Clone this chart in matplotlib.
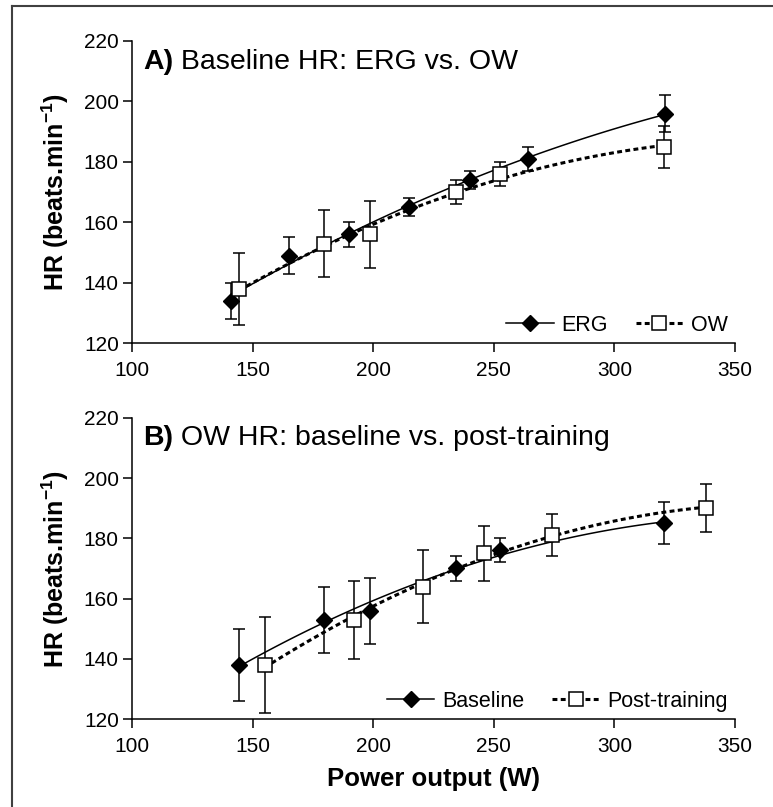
import numpy as np
import matplotlib
matplotlib.use("Agg")
import matplotlib.pyplot as plt
from matplotlib.lines import Line2D

plt.rcParams["font.family"] = "Liberation Sans"
plt.rcParams["mathtext.fontset"] = "custom"
plt.rcParams["mathtext.rm"] = "Liberation Sans"
plt.rcParams["mathtext.bf"] = "Liberation Sans:bold"

# Panel A: baseline ERG vs OW (mean +/- SD)
erg_w = [141, 165, 190, 215, 240, 264, 321]
erg_hr = [134, 149, 156, 165, 174, 181, 196]
erg_sd = [6, 6, 4, 3, 3, 4, 6]

ow_w = [144.5, 179.5, 198.5, 234.5, 252.5, 320.5]
ow_hr = [138, 153, 156, 170, 176, 185]
ow_sd = [12, 11, 11, 4, 4, 7]

# Panel B: OW post-training
post_w = [155, 192, 220.5, 246, 274, 338]
post_hr = [138, 153, 164, 175, 181, 190]
post_sd = [16, 13, 12, 9, 7, 8]

x_ticks = [100, 150, 200, 250, 300, 350]
y_ticks = [120, 140, 160, 180, 200, 220]

SOLID = dict(ls="-", lw=1.1, color="k")
DASH = dict(ls=(0, (1.6, 1.1)), lw=2.2, color="k")
DIAMOND = dict(marker="D", ms=8, mfc="k", mec="k", mew=1)
SQUARE = dict(marker="s", ms=10, mfc="white", mec="k", mew=1.1)


def draw_series(ax, x, y, sd, line, mark):
    x = np.asarray(x, float)
    y = np.asarray(y, float)
    ax.errorbar(x, y, yerr=sd, fmt="none", ecolor="k", elinewidth=1.1,
                capsize=4.5, capthick=1.1, zorder=2)
    # quadratic regression through the points, drawn over their range
    coef = np.polyfit(x, y, 2)
    xx = np.linspace(x.min(), x.max(), 100)
    ax.plot(xx, np.polyval(coef, xx), zorder=3, **line)
    ax.plot(x, y, ls="none", zorder=4, **mark)


def style_axes(ax, tag, title, labels):
    ax.set_xlim(100, 350)
    ax.set_ylim(120, 220)
    ax.set_xticks(x_ticks)
    ax.set_yticks(y_ticks)
    for s in ("top", "right"):
        ax.spines[s].set_visible(False)
    for s in ("left", "bottom"):
        ax.spines[s].set_linewidth(1.1)
    ax.tick_params(direction="out", length=6.5, width=1.1, labelsize=15)
    ax.tick_params(axis="y", pad=3)
    ax.tick_params(axis="x", pad=6)
    ax.set_ylabel(r"HR (beats.min$^{\mathbf{-1}}$)", fontsize=18,
                  fontweight="bold")
    ax.yaxis.set_label_coords(-0.102, 0.5)
    t1 = ax.text(0.018, 0.932, tag, transform=ax.transAxes, fontsize=20.5,
                 fontweight="bold", va="center", ha="left")
    ax.annotate(" " + title, xy=(1, 0), xycoords=t1, fontsize=20.5,
                va="bottom", ha="left")
    handles = [Line2D([], [], **SOLID, **DIAMOND),
               Line2D([], [], **DASH, **SQUARE)]
    ax.legend(handles, labels, loc="lower right", bbox_to_anchor=(1.0, 0.0),
              ncol=2, frameon=False, fontsize=15.5, handlelength=2.2,
              handletextpad=0.35, columnspacing=1.3, borderaxespad=0.25,
              borderpad=0.1)


fig = plt.figure(figsize=(7.73, 8.07), dpi=100)
axA = fig.add_axes([0.1708, 0.5746, 0.7801, 0.3746])
axB = fig.add_axes([0.1708, 0.1087, 0.7801, 0.3737])

draw_series(axA, erg_w, erg_hr, erg_sd, SOLID, DIAMOND)
draw_series(axA, ow_w, ow_hr, ow_sd, DASH, SQUARE)
style_axes(axA, "A)", "Baseline HR: ERG vs. OW", ["ERG", "OW"])

draw_series(axB, ow_w, ow_hr, ow_sd, SOLID, DIAMOND)
draw_series(axB, post_w, post_hr, post_sd, DASH, SQUARE)
style_axes(axB, "B)", "OW HR: baseline vs. post-training",
           ["Baseline", "Post-training"])
axB.set_xlabel("Power output (W)", fontsize=18.5, fontweight="bold",
               labelpad=8)

# partial frame (left and top edges) around the figure
fx = 12 / 773
fy = 1 - 6 / 807
fig.add_artist(Line2D([fx, fx], [0, fy], transform=fig.transFigure,
                      color="#404040", lw=1.5))
fig.add_artist(Line2D([fx, 1], [fy, fy], transform=fig.transFigure,
                      color="#404040", lw=1.5))

fig.savefig("out.png", dpi=100)
